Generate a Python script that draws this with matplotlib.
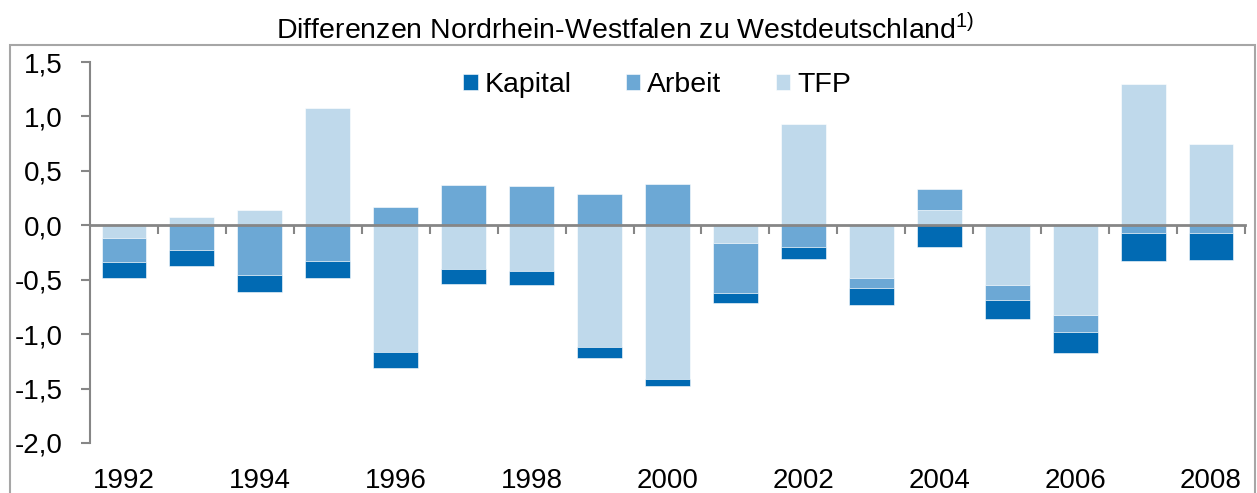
import numpy as np
import matplotlib
matplotlib.use("Agg")
import matplotlib.pyplot as plt
from matplotlib.patches import Rectangle

years = list(range(1992, 2009))
kapital = [-0.14, -0.14, -0.15, -0.15, -0.15, -0.14, -0.13, -0.10, -0.07,
           -0.09, -0.11, -0.15, -0.20, -0.17, -0.19, -0.26, -0.25]
arbeit = [-0.22, -0.23, -0.46, -0.33, 0.17, 0.37, 0.36, 0.29, 0.38,
          -0.46, -0.20, -0.10, 0.19, -0.14, -0.16, -0.07, -0.07]
tfp = [-0.12, 0.08, 0.14, 1.08, -1.16, -0.40, -0.42, -1.12, -1.41,
       -0.16, 0.93, -0.48, 0.14, -0.55, -0.82, 1.30, 0.75]

yticks = [-2.0, -1.5, -1.0, -0.5, 0.0, 0.5, 1.0, 1.5]
ytick_labels = ["-2,0", "-1,5", "-1,0", "-0,5", "0,0", "0,5", "1,0", "1,5"]

plt.rcParams["font.family"] = ["Liberation Sans", "DejaVu Sans"]
plt.rcParams["mathtext.fontset"] = "custom"
plt.rcParams["mathtext.rm"] = "Liberation Sans"

grey = "#868686"
colors = {"Kapital": "#016AB3", "Arbeit": "#6CA8D5", "TFP": "#BFD9EB"}

fig = plt.figure(figsize=(12.57, 4.93), dpi=100)
ax = fig.add_axes([90 / 1257, 50 / 493, 1155 / 1257, 381 / 493])

x = np.arange(len(years))
pos_base = np.zeros(len(years))
neg_base = np.zeros(len(years))
bars = {}
# Excel stacking order: TFP, Arbeit, Kapital
for name, vals in [("TFP", tfp), ("Arbeit", arbeit), ("Kapital", kapital)]:
    v = np.array(vals)
    bottom = np.where(v >= 0, pos_base, neg_base)
    bars[name] = ax.bar(x, v, bottom=bottom, width=0.66, color=colors[name],
                        edgecolor="white", linewidth=0.4, zorder=2)
    pos_base += np.where(v >= 0, v, 0)
    neg_base += np.where(v < 0, v, 0)

ax.set_xlim(-0.5, len(years) - 0.5)
ax.set_ylim(-2.0, 1.5)
ax.set_yticks(yticks)
ax.set_yticklabels(ytick_labels)

for s in ["top", "right"]:
    ax.spines[s].set_visible(False)
ax.spines["left"].set_color(grey)
ax.spines["left"].set_linewidth(1.5)
ax.spines["bottom"].set_position(("data", 0))
ax.spines["bottom"].set_color(grey)
ax.spines["bottom"].set_linewidth(2)
ax.spines["bottom"].set_zorder(3)

ax.set_xticks(np.arange(len(years)) + 0.5)
ax.tick_params(axis="x", length=6.5, width=1.5, color=grey, labelbottom=False)
ax.tick_params(axis="y", length=6.5, width=1.5, color=grey, pad=13, labelsize=20)

sec = ax.secondary_xaxis("bottom")
sec.spines["bottom"].set_visible(False)
sec.set_xticks(x[::2])
sec.set_xticklabels([str(y) for y in years[::2]])
sec.tick_params(length=0, pad=18, labelsize=20)

order = ["Kapital", "Arbeit", "TFP"]
ax.legend([bars[n] for n in order], order, loc="center", bbox_to_anchor=(0.491, 0.94),
          ncol=3, frameon=False, fontsize=20.5, handlelength=0.5, handleheight=0.5,
          handletextpad=0.25, columnspacing=1.9)

fig.text(0.497, 0.94, "Differenzen Nordrhein-Westfalen zu Westdeutschland$^{1)}$",
         ha="center", va="center", fontsize=20.5)

fig.patches.append(Rectangle((10 / 1257, -0.05), 1245 / 1257, (493 - 45) / 493 + 0.05,
                             transform=fig.transFigure, fill=False,
                             edgecolor="#a6a6a6", linewidth=1.5))

fig.savefig("out.png", dpi=100)
